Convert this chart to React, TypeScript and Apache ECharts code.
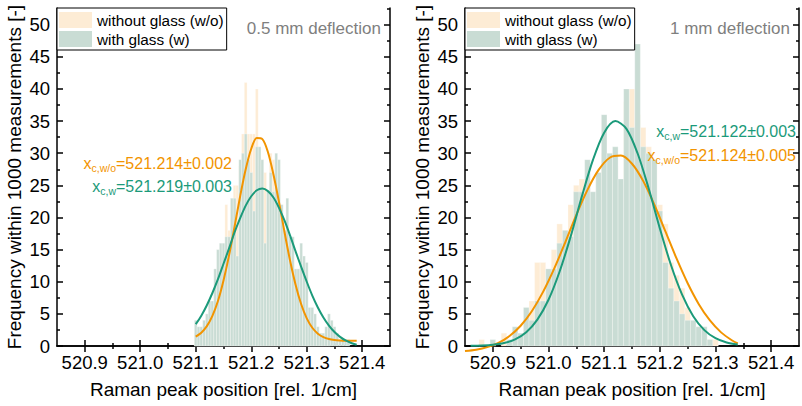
import React, { useEffect, useRef } from 'react';
import * as echarts from 'echarts';

const FONT = '"Liberation Sans", Arial, Helvetica, sans-serif';
const NAME_WO = 'without glass (w/o)';
const NAME_W = 'with glass (w)';
const PANEL_TITLES = ['0.5 mm deflection', '1 mm deflection'];
const X_TITLE = 'Raman peak position [rel. 1/cm]';
const Y_TITLE = 'Frequency within 1000 measurements [-]';

const X_MIN = 520.85;
const X_MAX = 521.45;
const Y_MIN = 0;
const Y_MAX = 52.6;
const X_TICKS = [520.9, 521.0, 521.1, 521.2, 521.3, 521.4];
const X_MINOR_TICKS = [520.95, 521.05, 521.15, 521.25, 521.35];
const Y_TICKS = [0, 5, 10, 15, 20, 25, 30, 35, 40, 45, 50];
const Y_MINOR_TICKS = [2.5, 7.5, 12.5, 17.5, 22.5, 27.5, 32.5, 37.5, 42.5, 47.5, 52.5];

// Left panel (0.5 mm deflection): histogram bins 0.005 wide, centres from 521.100
const LEFT_BIN_START = 521.1;
const LEFT_BIN_WIDTH = 0.005;
const LEFT_COUNTS_WO = [
  2, 1, 2, 3, 3, 5, 6,
  9, 10, 12, 14, 22, 18, 20, 25, 25, 28, 33, 41, 33, 33, 33, 40, 28, 27, 27, 22, 30, 29, 25, 20,
  17, 13, 11, 9, 8, 6, 5, 4, 3, 3, 2, 2, 1, 1, 1, 1, 1, 1, 0, 0, 0, 0, 0, 0, 0,
];
const LEFT_COUNTS_W = [
  4, 3, 3, 4, 5, 7, 7,
  12, 15, 16, 16, 17, 17, 23, 23, 14, 29, 30, 33, 29, 27, 21, 31, 31, 29, 16, 24, 27, 24, 30, 29,
  22, 18, 23, 17, 17, 12, 12, 16, 14, 13, 6, 6, 5, 3, 2, 2, 3, 5, 4, 3, 2, 1, 1, 1, 1,
];

// Right panel (1 mm deflection): histogram bins 0.01 wide, centres from 520.88
const RIGHT_BIN_START = 520.88;
const RIGHT_BIN_WIDTH = 0.01;
const RIGHT_COUNTS_WO = [
  1, 0, 0, 0, 2, 0, 1, 1, 4, 7, 13, 13, 10, 15, 19, 18, 22, 25, 26, 26, 23, 26, 30, 29, 28, 25,
  38, 40, 36, 34, 31, 29, 22, 19, 13, 11, 9, 6, 3, 2, 1, 1, 1,
];
const RIGHT_COUNTS_W = [
  0, 0, 1, 0, 0, 1, 3, 2, 6, 4, 7, 7, 12, 12, 16, 18, 17, 24, 24, 29, 24, 27, 36, 30, 31, 26,
  40, 34, 47, 31, 30, 29, 21, 13, 9, 7, 5, 4, 4, 3, 3, 1, 0,
];

// Fitted curves
const LEFT_FIT_X = [
  521.10, 521.11, 521.12, 521.13, 521.14, 521.15, 521.16, 521.17, 521.18, 521.19, 521.20, 521.21,
  521.22, 521.23, 521.24, 521.25, 521.26, 521.27, 521.28, 521.29, 521.30, 521.31, 521.32, 521.33,
  521.34, 521.35, 521.36, 521.37, 521.38, 521.39,
];
const LEFT_FIT_WO = [
  1.46, 2.07, 3.09, 4.69, 7.0, 10.2, 14.1, 18.6, 23.3, 27.5, 30.7, 32.35,
  32.2, 30.2, 26.7, 22.4, 17.7, 13.27, 9.5, 6.49, 4.3, 2.84, 1.92, 1.38,
  1.08, 0.93, 0.86, 0.82, 0.81, 0.8,
];
const LEFT_FIT_W = [
  3.4, 4.72, 6.35, 8.25, 10.4, 12.8, 15.2, 17.7, 19.9, 21.85, 23.3, 24.23,
  24.5, 24.1, 23.1, 21.5, 19.5, 17.18, 14.7, 12.3, 10.0, 7.85, 6.0, 4.44,
  3.17, 2.17, 1.42, 0.86, 0.46, 0.19,
];
const RIGHT_FIT_WO_X = [
  520.85, 520.87, 520.89, 520.91, 520.93, 520.95, 520.97, 520.99, 521.01, 521.03, 521.05, 521.07,
  521.09, 521.11, 521.13, 521.15, 521.17, 521.19, 521.21, 521.23, 521.25, 521.27, 521.29, 521.31,
  521.33, 521.34,
];
const RIGHT_FIT_WO = [
  -0.78, -0.57, -0.17, 0.49, 1.55, 3.15, 5.41, 8.38, 12.0, 16.1, 20.4, 24.3,
  27.4, 29.3, 29.63, 28.36, 25.7, 22.02, 17.83, 13.62, 9.76, 6.51, 3.97, 2.12,
  0.86, 0.41,
];
const RIGHT_FIT_W_X = [
  520.86, 520.88, 520.90, 520.92, 520.94, 520.96, 520.98, 521.00, 521.02, 521.04, 521.06, 521.08,
  521.10, 521.12, 521.14, 521.16, 521.18, 521.20, 521.22, 521.24, 521.26, 521.28, 521.30, 521.32,
  521.34,
];
const RIGHT_FIT_W = [
  0.02, 0.07, 0.19, 0.46, 1.04, 2.15, 4.11, 7.2, 11.6, 17.1, 23.3, 29.0,
  33.2, 35.0, 33.8, 30.0, 24.5, 18.3, 12.6, 7.98, 4.63, 2.47, 1.21, 0.54,
  0.22,
];

const LEFT_LABELS = [
  { sub: 'c,w/o', value: '=521.214±0.002', color: 'wo' },
  { sub: 'c,w', value: '=521.219±0.003', color: 'w' },
];
const RIGHT_LABELS = [
  { sub: 'c,w', value: '=521.122±0.003', color: 'w' },
  { sub: 'c,w/o', value: '=521.124±0.005', color: 'wo' },
];

const BAR_WO = '#fdecd5';
const BAR_W = '#c9dcd4';
const LINE_WO = '#f29400';
const LINE_W = '#1b9a7a';
const GRIDS = [
  { left: 57, top: 8, width: 333, height: 338 },
  { left: 465, top: 8, width: 334, height: 338 },
];

const binData = (start: number, width: number, counts: number[]) =>
  counts.map((c, i) => [+(start + i * width).toFixed(4), c]);

const pairs = (xs: number[], ys: number[]) => xs.map((x, i) => [x, ys[i]]);

const barRenderer = (color: string, binWidth: number) => (params: any, api: any) => {
  const y = api.value(1);
  if (!y) return null;
  const x = api.value(0);
  const a = api.coord([x - binWidth / 2, y]);
  const b = api.coord([x + binWidth / 2, 0]);
  return {
    type: 'rect',
    shape: { x: a[0], y: a[1], width: b[0] - a[0], height: b[1] - a[1] },
    style: { fill: color, stroke: 'rgba(255,255,255,0.6)', lineWidth: 0.5 },
  };
};

const AXIS_LINE = { show: true, lineStyle: { color: '#000', width: 1.5 } };

function xAxesFor(g: number) {
  const base = { gridIndex: g, type: 'value', min: X_MIN, max: X_MAX, splitLine: { show: false } };
  return [
    {
      ...base,
      position: 'bottom',
      axisLine: AXIS_LINE,
      axisTick: { show: true, inside: true, length: 6, customValues: X_TICKS, lineStyle: { color: '#000', width: 1.5 } },
      axisLabel: {
        show: true,
        customValues: X_TICKS,
        formatter: (v: number) => v.toFixed(1),
        fontSize: 18.5,
        color: '#000',
        fontFamily: FONT,
        margin: 7,
      },
      name: X_TITLE,
      nameLocation: 'middle',
      nameGap: 34,
      nameTextStyle: { fontSize: 19, color: '#000', fontFamily: FONT },
    },
    {
      ...base,
      position: 'bottom',
      axisLine: { show: false },
      axisTick: { show: true, inside: true, length: 3, customValues: X_MINOR_TICKS, lineStyle: { color: '#000', width: 1.5 } },
      axisLabel: { show: false },
    },
    {
      ...base,
      position: 'top',
      axisLine: AXIS_LINE,
      axisTick: { show: true, inside: true, length: 6, customValues: X_TICKS, lineStyle: { color: '#000', width: 1.5 } },
      axisLabel: { show: false },
    },
    {
      ...base,
      position: 'top',
      axisLine: { show: false },
      axisTick: { show: true, inside: true, length: 3, customValues: X_MINOR_TICKS, lineStyle: { color: '#000', width: 1.5 } },
      axisLabel: { show: false },
    },
  ];
}

function yAxesFor(g: number) {
  const base = { gridIndex: g, type: 'value', min: Y_MIN, max: Y_MAX, splitLine: { show: false } };
  return [
    {
      ...base,
      position: 'left',
      axisLine: AXIS_LINE,
      axisTick: { show: true, inside: true, length: 6, customValues: Y_TICKS, lineStyle: { color: '#000', width: 1.5 } },
      axisLabel: {
        show: true,
        customValues: Y_TICKS,
        fontSize: 18.5,
        color: '#000',
        fontFamily: FONT,
        margin: 7,
      },
      name: Y_TITLE,
      nameLocation: 'middle',
      nameGap: 33,
      nameTextStyle: { fontSize: 19, color: '#000', fontFamily: FONT },
    },
    {
      ...base,
      position: 'left',
      axisLine: { show: false },
      axisTick: { show: true, inside: true, length: 3, customValues: Y_MINOR_TICKS, lineStyle: { color: '#000', width: 1.5 } },
      axisLabel: { show: false },
    },
    {
      ...base,
      position: 'right',
      axisLine: AXIS_LINE,
      axisTick: { show: true, inside: true, length: 6, customValues: Y_TICKS, lineStyle: { color: '#000', width: 1.5 } },
      axisLabel: { show: false },
    },
    {
      ...base,
      position: 'right',
      axisLine: { show: false },
      axisTick: { show: true, inside: true, length: 3, customValues: Y_MINOR_TICKS, lineStyle: { color: '#000', width: 1.5 } },
      axisLabel: { show: false },
    },
  ];
}

function legendFor(g: number) {
  return {
    left: GRIDS[g].left,
    top: GRIDS[g].top,
    orient: 'vertical',
    icon: 'rect',
    itemWidth: 33,
    itemHeight: 16,
    itemGap: 3,
    padding: [4, 3, 3, 2],
    borderColor: '#000',
    borderWidth: 1,
    borderRadius: 0,
    backgroundColor: '#fff',
    selectedMode: false,
    textStyle: { fontSize: 15.3, color: '#000', fontFamily: FONT },
    data: [
      { name: NAME_WO, itemStyle: { color: BAR_WO } },
      { name: NAME_W, itemStyle: { color: BAR_W } },
    ],
  };
}

function fitLabel(label: { sub: string; value: string; color: string }, x: number, y: number) {
  const c = label.color === 'wo' ? LINE_WO : LINE_W;
  return {
    type: 'text',
    x,
    y,
    z: 100,
    style: {
      text: `{m|x}{s|${label.sub}}{m|${label.value}}`,
      align: 'right',
      verticalAlign: 'middle',
      fill: c,
      fontFamily: FONT,
      fontSize: 16,
      rich: {
        m: { fontSize: 16, lineHeight: 20, fill: c, fontFamily: FONT, verticalAlign: 'middle' },
        s: { fontSize: 10.5, lineHeight: 10, fill: c, fontFamily: FONT, verticalAlign: 'bottom' },
      },
    },
  };
}

function panelTitle(text: string, x: number) {
  return {
    type: 'text',
    x,
    y: 28,
    z: 100,
    style: {
      text,
      align: 'right',
      verticalAlign: 'middle',
      fill: '#7f7f7f',
      fontSize: 17,
      fontFamily: FONT,
    },
  };
}

function buildOption() {
  const series: any[] = [];
  const panels = [
    {
      xi: 0,
      start: LEFT_BIN_START,
      width: LEFT_BIN_WIDTH,
      wo: LEFT_COUNTS_WO,
      w: LEFT_COUNTS_W,
      fitWo: pairs(LEFT_FIT_X, LEFT_FIT_WO),
      fitW: pairs(LEFT_FIT_X, LEFT_FIT_W),
    },
    {
      xi: 4,
      start: RIGHT_BIN_START,
      width: RIGHT_BIN_WIDTH,
      wo: RIGHT_COUNTS_WO,
      w: RIGHT_COUNTS_W,
      fitWo: pairs(RIGHT_FIT_WO_X, RIGHT_FIT_WO),
      fitW: pairs(RIGHT_FIT_W_X, RIGHT_FIT_W),
    },
  ];
  panels.forEach((p) => {
    series.push({
      type: 'custom',
      name: NAME_WO,
      xAxisIndex: p.xi,
      yAxisIndex: p.xi,
      encode: { x: 0, y: 1 },
      data: binData(p.start, p.width, p.wo),
      renderItem: barRenderer(BAR_WO, p.width),
      itemStyle: { color: BAR_WO },
      z: 1,
    });
    series.push({
      type: 'custom',
      name: NAME_W,
      xAxisIndex: p.xi,
      yAxisIndex: p.xi,
      encode: { x: 0, y: 1 },
      data: binData(p.start, p.width, p.w),
      renderItem: barRenderer(BAR_W, p.width),
      itemStyle: { color: BAR_W },
      z: 2,
    });
    series.push({
      type: 'line',
      name: 'fit w/o',
      xAxisIndex: p.xi,
      yAxisIndex: p.xi,
      data: p.fitWo,
      smooth: 0.3,
      showSymbol: false,
      symbol: 'none',
      clip: false,
      lineStyle: { color: LINE_WO, width: 2 },
      z: 5,
    });
    series.push({
      type: 'line',
      name: 'fit w',
      xAxisIndex: p.xi,
      yAxisIndex: p.xi,
      data: p.fitW,
      smooth: 0.3,
      showSymbol: false,
      symbol: 'none',
      clip: false,
      lineStyle: { color: LINE_W, width: 2 },
      z: 5,
    });
  });

  return {
    animation: false,
    backgroundColor: '#ffffff',
    grid: GRIDS.map((g) => ({ ...g, containLabel: false })),
    xAxis: [...xAxesFor(0), ...xAxesFor(1)],
    yAxis: [...yAxesFor(0), ...yAxesFor(1)],
    legend: [legendFor(0), legendFor(1)],
    series,
    graphic: [
      panelTitle(PANEL_TITLES[0], 381),
      panelTitle(PANEL_TITLES[1], 790),
      fitLabel(LEFT_LABELS[0], 232, 163),
      fitLabel(LEFT_LABELS[1], 232, 186),
      fitLabel(RIGHT_LABELS[0], 796, 131),
      fitLabel(RIGHT_LABELS[1], 796, 155),
    ],
  };
}

export default function App() {
  const ref = useRef<HTMLDivElement>(null);
  useEffect(() => {
    if (!ref.current) return;
    const chart = echarts.init(ref.current, undefined, { renderer: 'svg' });
    chart.setOption(buildOption() as any);
    return () => chart.dispose();
  }, []);
  return (
    <div
      ref={ref}
      style={{ position: 'absolute', left: 0, top: 0, width: 802, height: 406, background: '#fff' }}
    />
  );
}
